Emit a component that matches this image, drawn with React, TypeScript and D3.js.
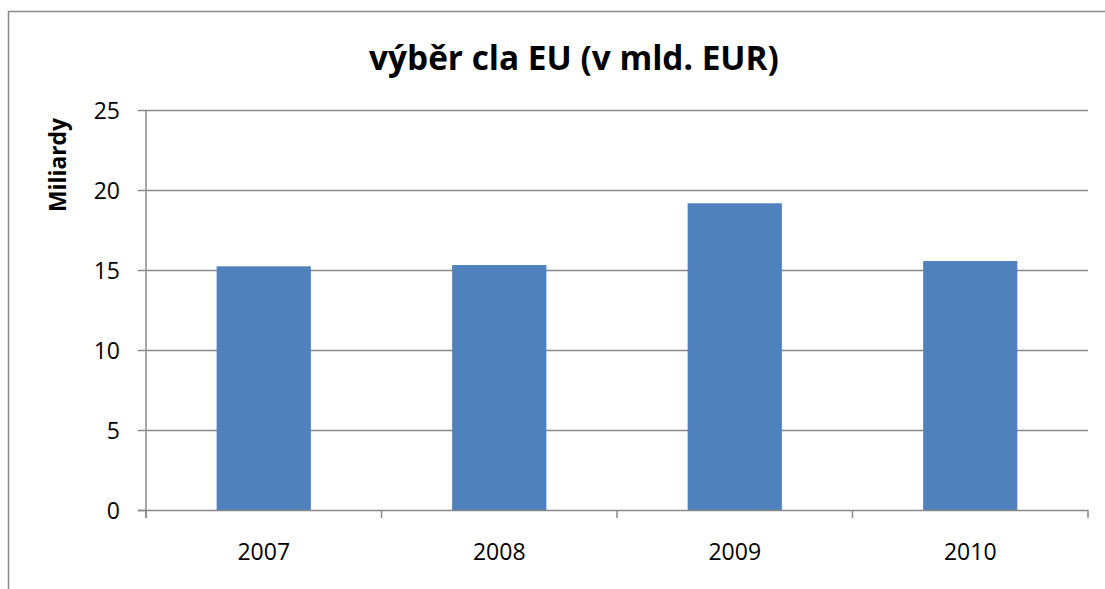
import React, { useEffect, useRef } from 'react';
import * as d3 from 'd3';

const years = ['2007', '2008', '2009', '2010'];
const values = [15.23, 15.31, 19.17, 15.56];
const yTicks = [0, 5, 10, 15, 20, 25];

const W = 1105;
const H = 589;

const App: React.FC = () => {
  const ref = useRef<SVGSVGElement>(null);

  useEffect(() => {
    const svg = d3.select(ref.current);
    svg.selectAll('*').remove();

    const left = 146;
    const right = 1088;
    const top = 110;
    const bottom = 510;
    const font = '"Open Sans", sans-serif';

    const x = d3.scaleBand<string>().domain(years).range([left, right]).paddingInner(0.6).paddingOuter(0.3);
    const xEdges = d3.scaleBand<string>().domain(years).range([left, right]);
    const y = d3.scaleLinear().domain([0, 25]).range([bottom, top]);

    // chart area frame
    svg.append('rect')
      .attr('x', 8.5).attr('y', 11.5)
      .attr('width', W + 20).attr('height', H + 20)
      .attr('fill', '#fff').attr('stroke', '#898989').attr('stroke-width', 1.5);

    // fit a text node to a target length by adjusting its font size
    const fitText = (node: SVGTextElement | null, size: number, target: number) => {
      if (!node) return;
      const len = node.getComputedTextLength();
      if (len > 0) node.setAttribute('font-size', String((size * target) / len));
    };

    // title
    const title = svg.append('text')
      .attr('x', 574).attr('y', 70)
      .attr('text-anchor', 'middle')
      .attr('font-family', font)
      .attr('font-weight', 'bold')
      .attr('font-size', 28)
      .text('výběr cla EU (v mld. EUR)');
    fitText(title.node(), 28, 410);

    // gridlines
    svg.selectAll('.grid')
      .data(yTicks.filter(t => t > 0))
      .enter().append('line')
      .attr('x1', left).attr('x2', right)
      .attr('y1', d => Math.round(y(d)) + 0.5).attr('y2', d => Math.round(y(d)) + 0.5)
      .attr('stroke', '#888').attr('stroke-width', 1.5);

    // bars
    svg.selectAll('.bar')
      .data(values)
      .enter().append('rect')
      .attr('x', (d, i) => x(years[i]) as number)
      .attr('width', x.bandwidth())
      .attr('y', d => y(d))
      .attr('height', d => bottom - y(d))
      .attr('fill', '#4F81BD');

    // y axis
    const yAxis = d3.axisLeft(y).tickValues(yTicks).tickSize(8).tickPadding(18);
    const gy = svg.append('g').attr('transform', `translate(${left},0)`).call(yAxis);
    gy.attr('font-family', font).attr('font-size', 23);
    gy.select('.domain').attr('stroke', '#888').attr('stroke-width', 1.5).attr('d', `M0,${top}V${bottom + 8}`);
    gy.selectAll('.tick line').attr('stroke', '#888').attr('stroke-width', 1.5);
    gy.selectAll('.tick text').attr('fill', '#000').attr('dy', '0.36em');

    // x axis line + tick marks at category edges
    svg.append('line')
      .attr('x1', left - 8).attr('x2', right)
      .attr('y1', bottom + 0.5).attr('y2', bottom + 0.5)
      .attr('stroke', '#888').attr('stroke-width', 1.5);
    const edges = years.map(d => xEdges(d) as number).concat([right]);
    svg.selectAll('.xtick')
      .data(edges)
      .enter().append('line')
      .attr('x1', d => d).attr('x2', d => d)
      .attr('y1', bottom).attr('y2', bottom + 8)
      .attr('stroke', '#888').attr('stroke-width', 1.5);

    svg.selectAll('.xlabel')
      .data(years)
      .enter().append('text')
      .attr('x', d => (x(d) as number) + x.bandwidth() / 2)
      .attr('y', 560)
      .attr('text-anchor', 'middle')
      .attr('font-family', font).attr('font-size', 23)
      .text(d => d);

    // y axis title
    const yTitle = svg.append('text')
      .attr('transform', 'translate(66,165) rotate(-90)')
      .attr('text-anchor', 'middle')
      .attr('font-family', font)
      .attr('font-weight', 'bold')
      .attr('font-size', 22)
      .text('Miliardy');
    fitText(yTitle.node(), 22, 94);
  }, []);

  return (
    <div style={{ position: 'absolute', left: 0, top: 0 }}>
      <svg ref={ref} width={W} height={H} style={{ display: 'block' }}></svg>
    </div>
  );
};

export default App;
